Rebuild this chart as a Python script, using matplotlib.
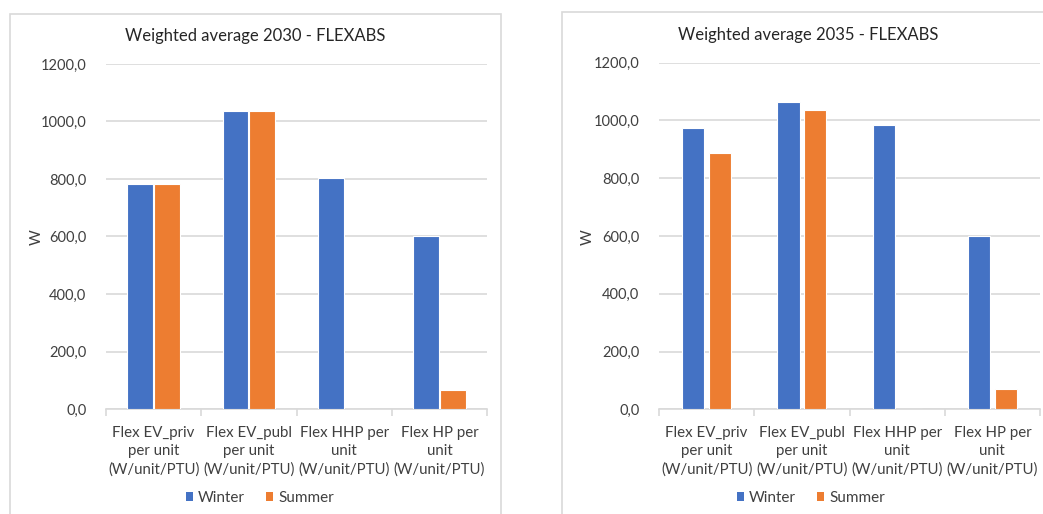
import matplotlib
matplotlib.use("Agg")
import matplotlib.pyplot as plt
import numpy as np
from matplotlib.patches import Rectangle, Patch

plt.rcParams['font.family'] = ['Lato', 'DejaVu Sans']

categories = ["Flex EV_priv\nper unit\n(W/unit/PTU)",
              "Flex EV_publ\nper unit\n(W/unit/PTU)",
              "Flex HHP per\nunit\n(W/unit/PTU)",
              "Flex HP per\nunit\n(W/unit/PTU)"]
winter_2030 = [782, 1037, 805, 602]
summer_2030 = [782, 1037, 0, 66]
winter_2035 = [975, 1065, 984, 601]
summer_2035 = [886, 1037, 0, 69]
titles = ["Weighted average 2030 - FLEXABS", "Weighted average 2035 - FLEXABS"]
yticks = [0, 200, 400, 600, 800, 1000, 1200]
series_names = ["Winter", "Summer"]

BLUE = "#4472C4"
ORANGE = "#ED7D31"
GRID = "#D9D9D9"
TXT = "#404040"

W, H = 1043, 514
fig = plt.figure(figsize=(W / 100, H / 100), dpi=100)

def fx(px):
    return px / W

def fy(py):
    return 1 - py / H

# panel borders
for (x0, y0, x1, y1) in [(10, 14, 501, 530), (562, 12, 1060, 530)]:
    fig.patches.append(Rectangle((fx(x0), fy(y1)), fx(x1 - x0), (y1 - y0) / H,
                                 transform=fig.transFigure, fill=False,
                                 edgecolor=GRID, linewidth=1.2))

panels = [
    dict(ax=(106, 487, 64, 409), w=winter_2030, s=summer_2030, bw=0.27,
         title=titles[0], tx=255, ty=36, ylx=37, legx=260),
    dict(ax=(659, 1040, 62.7, 409.3), w=winter_2035, s=summer_2035, bw=0.235,
         title=titles[1], tx=808, ty=35, ylx=588, legx=811),
]

x = np.arange(len(categories))
for p in panels:
    l, r, t, b = p['ax']
    ax = fig.add_axes([fx(l), fy(b), fx(r - l), (b - t) / H])
    ax.bar(x - 0.14, p['w'], width=p['bw'], color=BLUE, edgecolor='white', linewidth=0.8, zorder=3)
    ax.bar(x + 0.14, p['s'], width=p['bw'], color=ORANGE, edgecolor='white', linewidth=0.8, zorder=3)
    ax.set_xlim(-0.5, len(categories) - 0.5)
    ax.set_ylim(0, 1200)
    ax.set_yticks(yticks)
    ax.set_yticklabels([f"{v:.1f}".replace('.', ',') for v in yticks], fontsize=10.5, color=TXT)
    ax.yaxis.grid(True, color=GRID, linewidth=1.2, zorder=0)
    ax.tick_params(axis='y', length=0, pad=14)
    ax.set_xticks(x)
    ax.set_xticklabels(categories, fontsize=10.8, color=TXT, linespacing=1.38)
    ax.set_xticks(np.arange(-0.5, len(categories)), minor=True)
    ax.tick_params(axis='x', which='major', length=0, pad=12)
    ax.tick_params(axis='x', which='minor', length=5, color=GRID, width=1.2)
    for sp in ['top', 'right', 'left']:
        ax.spines[sp].set_visible(False)
    ax.spines['bottom'].set_color(GRID)
    ax.spines['bottom'].set_linewidth(1.2)
    ax.set_axisbelow(True)
    fig.text(fx(p['tx']), fy(p['ty']), p['title'], ha='center', va='center',
             fontsize=12, color='#262626')
    fig.text(fx(p['ylx']), fy(237), "W", ha='center', va='center', rotation=90,
             fontsize=11, color=TXT)
    handles = [Patch(facecolor=BLUE, label=series_names[0]),
               Patch(facecolor=ORANGE, label=series_names[1])]
    fig.legend(handles=handles, loc='center', bbox_to_anchor=(fx(p['legx']), fy(498)),
               ncol=2, frameon=False, fontsize=11, handlelength=0.45, handleheight=0.45,
               handletextpad=0.35, columnspacing=1.4, labelcolor=TXT)

fig.savefig("out.png", dpi=100, facecolor='white')
